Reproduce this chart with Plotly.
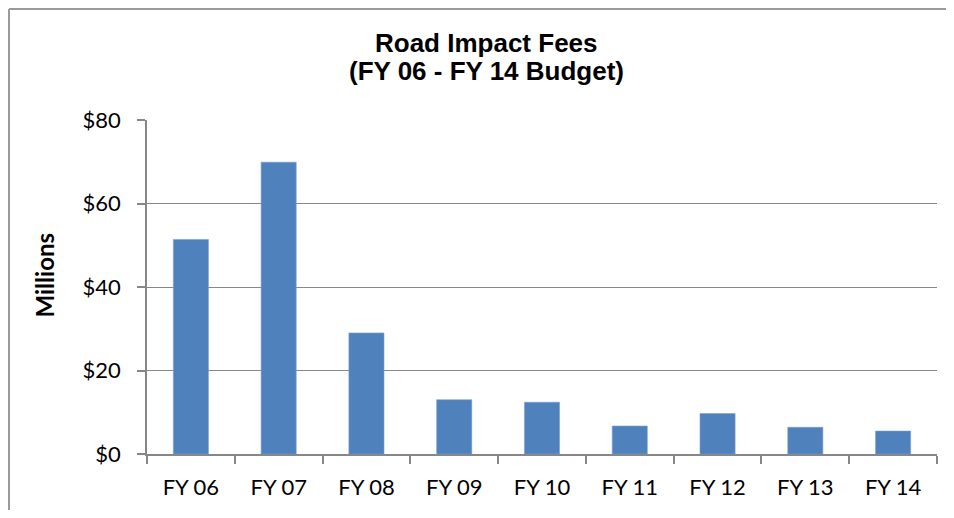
import plotly.graph_objects as go

categories = ["FY 06", "FY 07", "FY 08", "FY 09", "FY 10", "FY 11", "FY 12", "FY 13", "FY 14"]
fees_millions = [51.4, 69.9, 29.0, 13.0, 12.4, 6.7, 9.7, 6.4, 5.5]
y_tick_values = [0, 20, 40, 60, 80]
y_tick_labels = ["$0", "$20", "$40", "$60", "$80"]
title_lines = ["Road Impact Fees", "(FY 06 - FY 14 Budget)"]
y_title = "Millions"

OFF = 8  # page body margin
W, H = 954 - 2 * OFF, 518 - 2 * OFF
L = 147 - OFF
R = W - (937 - OFF)
T = 120 - OFF
B = H - (454 - OFF)
PW, PH = W - L - R, H - T - B

def px_x(px):
    return (px - OFF - L) / PW

def px_y(py):
    return (H - B - (py - OFF)) / PH

grid = "#878787"
tick_font = dict(family="Lato, Calibri, sans-serif", size=22, color="#000000")

fig = go.Figure(go.Bar(
    x=categories, y=fees_millions,
    marker=dict(color="#4F81BD", line=dict(color="#7C9FD0", width=0.6)),
    width=0.4,
    hoverinfo="x+y",
))

fig.update_layout(
    width=W, height=H,
    margin=dict(l=L, r=R, t=T, b=B, pad=0),
    paper_bgcolor="white", plot_bgcolor="white",
    showlegend=False,
    bargap=0.6,
    xaxis=dict(
        type="category",
        showgrid=False, showline=True, linecolor=grid, linewidth=1.5,
        ticks="outside", tickson="boundaries", ticklen=8, tickcolor=grid, tickwidth=1.5,
        tickfont=tick_font, ticklabelstandoff=13,
    ),
    yaxis=dict(
        range=[0, 80], tickvals=y_tick_values, ticktext=y_tick_labels,
        showgrid=True, gridcolor=grid, gridwidth=1.2,
        showline=True, linecolor=grid, linewidth=1.5,
        zeroline=False,
        ticks="outside", ticklen=8, tickcolor=grid, tickwidth=1.5,
        tickfont=tick_font, ticklabelstandoff=12,
    ),
    annotations=[
        dict(text="<b>%s</b>" % title_lines[0], xref="paper", yref="paper",
             x=px_x(486), y=px_y(42.5), xanchor="center", yanchor="middle", showarrow=False,
             font=dict(family="Liberation Sans, Arial, sans-serif", size=26, color="#000000")),
        dict(text="<b>%s</b>" % title_lines[1], xref="paper", yref="paper",
             x=px_x(486), y=px_y(71), xanchor="center", yanchor="middle", showarrow=False,
             font=dict(family="Liberation Sans, Arial, sans-serif", size=26, color="#000000")),
        dict(text="<b>%s</b>" % y_title, xref="paper", yref="paper",
             x=px_x(44), y=px_y(275.5), xanchor="center", yanchor="middle", showarrow=False,
             textangle=-90,
             font=dict(family="Lato, Calibri, sans-serif", size=24, color="#000000")),
    ],
    shapes=[
        dict(type="line", xref="paper", yref="paper", layer="below",
             x0=px_x(OFF + 1), y0=px_y(OFF + 1), x1=px_x(OFF + 1), y1=px_y(518),
             line=dict(color="#9a9a9a", width=2)),
        dict(type="line", xref="paper", yref="paper", layer="below",
             x0=px_x(OFF + 1), y0=px_y(OFF + 1), x1=px_x(954), y1=px_y(OFF + 1),
             line=dict(color="#9a9a9a", width=2)),
    ],
)

fig.write_html("out.html")
